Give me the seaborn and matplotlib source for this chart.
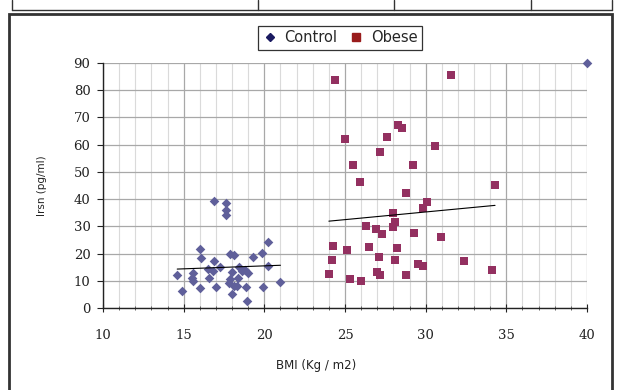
import pandas as pd
import matplotlib.pyplot as plt
import seaborn as sns
from matplotlib.ticker import MultipleLocator
from matplotlib.lines import Line2D
from matplotlib.patches import Rectangle

# Values
control_bmi = [16.9, 17.6, 17.6, 17.6, 20.2, 16.0, 19.85, 17.9, 18.1, 19.3,
               16.1, 16.9, 18.4, 20.2, 17.25, 16.5, 18.0, 18.8, 19.0, 16.8,
               14.6, 15.55, 15.5, 15.55, 16.6, 17.9, 17.8, 21.0, 18.1, 18.3,
               18.85, 19.9, 16.0, 17.0, 14.9, 18.0, 18.9, 18.35, 18.6, 40.0]
control_irisin = [39.2, 38.7, 36.1, 34.3, 24.3, 21.7, 20.3, 20.0, 19.3, 18.8,
                  18.5, 17.4, 15.0, 15.4, 15.1, 14.2, 13.3, 13.9, 12.9, 13.7,
                  12.2, 12.7, 11.2, 10.0, 11.2, 10.7, 9.3, 9.5, 8.2, 7.9,
                  7.6, 7.8, 7.4, 7.8, 6.1, 5.0, 2.7, 10.9, 13.7, 90.0]

obese_bmi = [24.36, 28.3, 28.56, 27.6, 25.0, 27.2, 25.5, 25.9, 31.6, 30.6,
             29.2, 34.3, 28.8, 28.0, 28.1, 28.0, 26.3, 26.9, 27.3, 24.26,
             25.1, 26.5, 28.2, 24.2, 27.1, 28.1, 24.0, 27.0, 27.15, 25.3,
             26.0, 28.8, 30.1, 29.85, 29.3, 30.95, 29.5, 29.85, 32.4, 34.1]
obese_irisin = [83.8, 67.4, 66.0, 62.8, 62.2, 57.3, 52.4, 46.3, 85.5, 59.5,
                52.6, 45.3, 42.4, 35.0, 31.6, 29.6, 30.2, 29.2, 27.1, 22.8,
                21.2, 22.5, 22.1, 17.6, 18.6, 17.6, 12.5, 13.2, 12.2, 10.5,
                10.1, 12.0, 38.9, 36.7, 27.6, 25.9, 16.1, 15.4, 17.1, 13.9]

# trend line end points (as drawn in the reference)
control_trend_x = [14.6, 21.0]
control_trend_y = [14.3, 15.7]
obese_trend_x = [24.0, 34.3]
obese_trend_y = [31.9, 37.7]

groups = ['Control', 'Obese']
colors = {'Control': '#5f5f9a', 'Obese': '#933060'}

df = pd.concat([
    pd.DataFrame({'bmi': control_bmi, 'irisin': control_irisin, 'group': 'Control'}),
    pd.DataFrame({'bmi': obese_bmi, 'irisin': obese_irisin, 'group': 'Obese'}),
], ignore_index=True)

sns.set_style('white')
plt.rcParams['font.family'] = ['DejaVu Sans']

fig = plt.figure(figsize=(6.17, 3.9), dpi=100)
ax = fig.add_axes([103 / 617, 1 - 308 / 390, 484 / 617, 245 / 390])

# grid: light minor verticals, darker every 5, horizontals every 10
ax.xaxis.set_major_locator(MultipleLocator(5))
ax.xaxis.set_minor_locator(MultipleLocator(1))
ax.yaxis.set_major_locator(MultipleLocator(10))
ax.grid(which='minor', axis='x', color='#dadada', linewidth=0.8)
ax.grid(which='major', axis='x', color='#a8a8a8', linewidth=0.9)
ax.grid(which='major', axis='y', color='#a8a8a8', linewidth=0.9)
ax.set_axisbelow(True)

sns.scatterplot(data=df[df.group == 'Control'], x='bmi', y='irisin',
                color=colors['Control'], marker='D', s=24, linewidth=0,
                ax=ax, clip_on=False, legend=False)
sns.scatterplot(data=df[df.group == 'Obese'], x='bmi', y='irisin',
                color=colors['Obese'], marker='s', s=32, linewidth=0,
                ax=ax, clip_on=False, legend=False)

ax.plot(control_trend_x, control_trend_y, color='black', linewidth=0.8)
ax.plot(obese_trend_x, obese_trend_y, color='black', linewidth=0.8)

ax.set_xlim(10, 40)
ax.set_ylim(0, 90)

for side in ['top', 'right']:
    ax.spines[side].set_visible(False)
for side in ['left', 'bottom']:
    ax.spines[side].set_color('#222222')
    ax.spines[side].set_linewidth(1.0)

ax.tick_params(axis='x', which='major', direction='inout', length=6, width=0.8,
               colors='#222222', pad=12, labelsize=9.5)
ax.tick_params(axis='x', which='minor', direction='inout', length=3, width=0.6,
               colors='#444444')
ax.tick_params(axis='y', which='major', direction='out', length=4, width=0.8,
               colors='#222222', pad=5, labelsize=9.5)
ax.tick_params(left=True, bottom=True)
ax.tick_params(axis='x', which='minor', bottom=True)
for lab in ax.get_xticklabels() + ax.get_yticklabels():
    lab.set_family('DejaVu Serif')

ax.set_xlabel('BMI (Kg / m2)', fontsize=8.5, color='#222222')
ax.xaxis.set_label_coords(0.44, -0.21)
ax.set_ylabel('Irsn (pg/ml)', fontsize=7.5, color='#222222')
ax.yaxis.set_label_coords(-0.116, 0.5)

# legend box on top
handles = [Line2D([], [], marker='D', color='#1a1a60', linestyle='none', markersize=4),
           Line2D([], [], marker='s', color='#991c1c', linestyle='none', markersize=6)]
fig.legend(handles, groups, loc='center', bbox_to_anchor=(340 / 617, 1 - 38 / 390),
           ncol=2, frameon=True, fancybox=False, edgecolor='black', fontsize=10.5,
           handletextpad=0.5, columnspacing=0.8, handlelength=1.0,
           borderpad=0.3, borderaxespad=0)
fig.legends[0].get_frame().set_linewidth(0.9)

# surrounding document frame
fig.patches.append(Rectangle((9 / 617, -0.05), 603 / 617, 1 - 14 / 390 + 0.05,
                             transform=fig.transFigure, fill=False,
                             edgecolor='#333333', linewidth=2.0))
for xp in [12, 258, 394, 531, 612]:
    fig.add_artist(Line2D([xp / 617, xp / 617], [1 - 10 / 390, 1.0],
                          transform=fig.transFigure, color='#333333', linewidth=1.0))
fig.add_artist(Line2D([12 / 617, 612 / 617], [1 - 10 / 390, 1 - 10 / 390],
                      transform=fig.transFigure, color='#333333', linewidth=1.0))

fig.savefig('out.png', dpi=100)
